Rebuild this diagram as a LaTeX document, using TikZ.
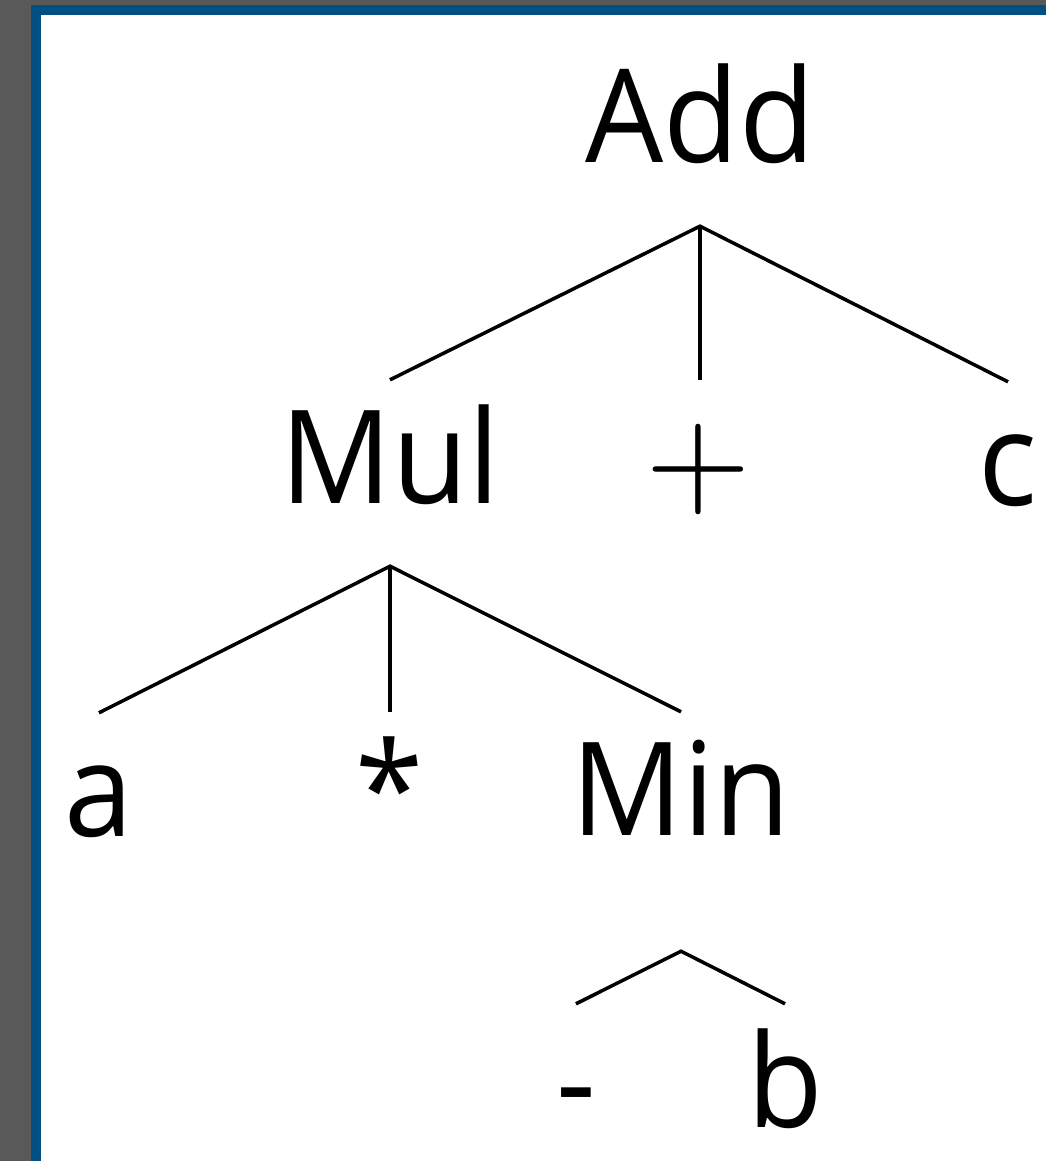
\documentclass[tikz,border=0pt]{standalone}
\usepackage{graphicx}
\usepackage{fontspec}
\setmainfont{Open Sans}[FakeStretch=0.95]
\definecolor{framblue}{RGB}{0,80,130}
\definecolor{outgrey}{RGB}{89,89,89}
\begin{document}
\begin{tikzpicture}[x=1pt,y=-1pt,
  edge/.style={line width=3.5pt},
  tn/.style={inner sep=0pt, anchor=base, text height=123pt, text depth=63pt,
    font=\fontsize{130}{156}\selectfont}]
\useasboundingbox (0,0) rectangle (1046,1161);
\fill[outgrey] (0,0) rectangle (1046,1161);
\fill[framblue] (31,5) rectangle (1046,1161);
\fill[white] (41,15) rectangle (1046,1161);
% nodes
\node[tn] (add) at (700,163) {Add};
\node[tn] (mul) at (390,503) {Mul};
\node[tn, font=\normalsize] (plus) at (698,503) {\scalebox{13.6}{$+$}};
\node[tn] (c) at (1008,505) {c};
\node[tn] (a) at (99,836) {a};
\node[tn] (star) at (390,835) {*};
\node[tn, text depth=116pt] (min) at (681,835) {Min};
\node[tn] (minus) at (576,1127) {-};
\node[tn] (b) at (785,1127) {b};
% connectors
\draw[edge] (mul.north) -- (add.south) -- (c.north);
\draw[edge] (add.south) -- (add.south |- plus.north);
\draw[edge] (a.north) -- (mul.south) -- (min.north);
\draw[edge] (mul.south) -- (star.north);
\draw[edge] (minus.north) -- (min.south) -- (b.north);
\end{tikzpicture}
\end{document}
